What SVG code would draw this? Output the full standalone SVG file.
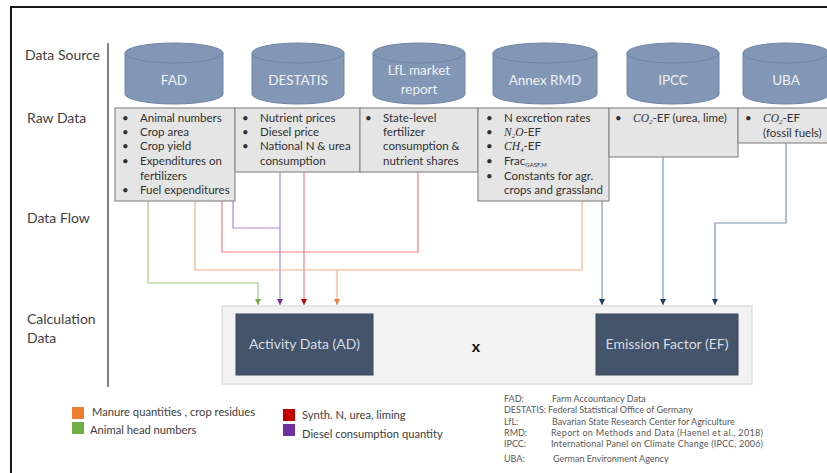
<svg xmlns="http://www.w3.org/2000/svg" width="827" height="473" viewBox="0 0 827 473">
<style>
text{font-family:Lato,"Open Sans","Liberation Sans",sans-serif}
.lbl{font-size:14px;fill:#404040}
.cyl{fill:#8197b5;stroke:#6e85a5;stroke-width:1}
.cyltxt{font-size:13.5px;fill:#eef1f6;text-anchor:middle}
.raw{fill:#e5e5e5;stroke:#8c8c8c;stroke-width:1.2}
.rt{font-size:11.5px;fill:#303030}
.m{font-family:"Liberation Serif","DejaVu Serif",serif;font-style:italic}
.sb{font-size:7px}
.calc{fill:#44546a;stroke:#3a4759;stroke-width:1}
.ct{font-size:14px;fill:#d6dce5;text-anchor:middle}
.lg{font-size:11.2px;fill:#404040}
.ab{font-size:9px;fill:#595959}
.c{fill:none;stroke-width:1.2}
</style>
<defs>
<marker id="aG" viewBox="0 0 6 6" refX="6" refY="3" markerWidth="6" markerHeight="6" markerUnits="userSpaceOnUse" orient="auto"><path d="M0,0L6,3L0,6z" fill="#70ad47"/></marker>
<marker id="aP" viewBox="0 0 6 6" refX="6" refY="3" markerWidth="6" markerHeight="6" markerUnits="userSpaceOnUse" orient="auto"><path d="M0,0L6,3L0,6z" fill="#7030a0"/></marker>
<marker id="aR" viewBox="0 0 6 6" refX="6" refY="3" markerWidth="6" markerHeight="6" markerUnits="userSpaceOnUse" orient="auto"><path d="M0,0L6,3L0,6z" fill="#c00000"/></marker>
<marker id="aO" viewBox="0 0 6 6" refX="6" refY="3" markerWidth="6" markerHeight="6" markerUnits="userSpaceOnUse" orient="auto"><path d="M0,0L6,3L0,6z" fill="#ed7d31"/></marker>
<marker id="aB" viewBox="0 0 6 6" refX="6" refY="3" markerWidth="6" markerHeight="6" markerUnits="userSpaceOnUse" orient="auto"><path d="M0,0L6,3L0,6z" fill="#203864"/></marker>
</defs>
<rect x="0" y="0" width="827" height="473" fill="#ffffff"/>
<rect x="11" y="7" width="840" height="490" fill="none" stroke="#000" stroke-width="1.8"/>
<line x1="108" y1="43" x2="108" y2="387" stroke="#595959" stroke-width="1.5"/>

<g id="row-labels">
<text class="lbl" x="25" y="60">Data Source</text>
<text class="lbl" x="27" y="123">Raw Data</text>
<text class="lbl" x="27" y="223">Data Flow</text>
<text class="lbl" x="27" y="324">Calculation</text>
<text class="lbl" x="27" y="343">Data</text>
</g>

<g id="calc-area">
<rect x="222" y="306" width="530" height="78" fill="#f2f2f2" stroke="#d9d9d9" stroke-width="1.2"/>
<text x="476" y="352" font-size="16" font-weight="bold" fill="#111" text-anchor="middle">x</text>
</g>

<g id="connectors">
<path class="c" stroke="#9fcc80" d="M148,201V283H258V305" marker-end="url(#aG)"/>
<path class="c" stroke="#a98bd3" d="M280,172V305" marker-end="url(#aP)"/>
<path class="c" stroke="#a98bd3" d="M233,201V228H280"/>
<path class="c" stroke="#ee8080" d="M304,172V305" marker-end="url(#aR)"/>
<path class="c" stroke="#ee8080" d="M418,172V252H222V201"/>
<path class="c" stroke="#f6b385" d="M582,201V270H195V201"/>
<path class="c" stroke="#f6b385" d="M337,270V305" marker-end="url(#aO)"/>
<path class="c" stroke="#7f93b8" d="M602,201V305" marker-end="url(#aB)"/>
<path class="c" stroke="#7f93b8" d="M663,157V305" marker-end="url(#aB)"/>
<path class="c" stroke="#7f93b8" d="M786,143V223H715V305" marker-end="url(#aB)"/>
</g>

<g id="src-fad">
<path class="cyl" d="M125,53V94A49,10 0 0 0 223,94V53"/>
<ellipse class="cyl" cx="174" cy="53" rx="49" ry="10"/>
<text class="cyltxt" x="174" y="85">FAD</text>
</g>
<g id="src-destatis">
<path class="cyl" d="M252,53V94A46,10 0 0 0 344,94V53"/>
<ellipse class="cyl" cx="298" cy="53" rx="46" ry="10"/>
<text class="cyltxt" x="298" y="85">DESTATIS</text>
</g>
<g id="src-lfl">
<path class="cyl" d="M373,53V94A46,10 0 0 0 465,94V53"/>
<ellipse class="cyl" cx="419" cy="53" rx="46" ry="10"/>
<text class="cyltxt" x="419" y="75">LfL market</text>
<text class="cyltxt" x="419" y="94">report</text>
</g>
<g id="src-annex">
<path class="cyl" d="M493,53V94A52,10 0 0 0 597,94V53"/>
<ellipse class="cyl" cx="545" cy="53" rx="52" ry="10"/>
<text class="cyltxt" x="545" y="85">Annex RMD</text>
</g>
<g id="src-ipcc">
<path class="cyl" d="M627,53V94A46,10 0 0 0 719,94V53"/>
<ellipse class="cyl" cx="673" cy="53" rx="46" ry="10"/>
<text class="cyltxt" x="673" y="85">IPCC</text>
</g>
<g id="src-uba">
<path class="cyl" d="M743,53V94A43,10 0 0 0 829,94V53"/>
<ellipse class="cyl" cx="786" cy="53" rx="43" ry="10"/>
<text class="cyltxt" x="786" y="85">UBA</text>
</g>

<g id="raw-fad">
<rect class="raw" x="115" y="108" width="120" height="93"/>
<text class="rt" x="122" y="122">•</text><text class="rt" x="140" y="122">Animal numbers</text>
<text class="rt" x="122" y="136">•</text><text class="rt" x="140" y="136">Crop area</text>
<text class="rt" x="122" y="150">•</text><text class="rt" x="140" y="150">Crop yield</text>
<text class="rt" x="122" y="165">•</text><text class="rt" x="140" y="165">Expenditures on</text>
<text class="rt" x="140" y="180">fertilizers</text>
<text class="rt" x="122" y="194">•</text><text class="rt" x="140" y="194">Fuel expenditures</text>
</g>
<g id="raw-destatis">
<rect class="raw" x="235" y="108" width="125" height="64"/>
<text class="rt" x="242" y="122">•</text><text class="rt" x="260" y="122">Nutrient prices</text>
<text class="rt" x="242" y="136">•</text><text class="rt" x="260" y="136">Diesel price</text>
<text class="rt" x="242" y="150">•</text><text class="rt" x="260" y="150">National N &amp; urea</text>
<text class="rt" x="260" y="165">consumption</text>
</g>
<g id="raw-lfl">
<rect class="raw" x="360" y="108" width="118" height="64"/>
<text class="rt" x="365" y="122">•</text><text class="rt" x="383" y="122">State-level</text>
<text class="rt" x="383" y="136">fertilizer</text>
<text class="rt" x="383" y="150">consumption &amp;</text>
<text class="rt" x="383" y="165">nutrient shares</text>
</g>
<g id="raw-annex">
<rect class="raw" x="478" y="108" width="131" height="93"/>
<text class="rt" x="486" y="122">•</text><text class="rt" x="504" y="122">N excretion rates</text>
<text class="rt" x="486" y="136">•</text><text class="rt" x="504" y="136"><tspan class="m">N</tspan><tspan class="m sb" dy="2">2</tspan><tspan class="m" dy="-2">O</tspan>-EF</text>
<text class="rt" x="486" y="150">•</text><text class="rt" x="504" y="150"><tspan class="m">CH</tspan><tspan class="m sb" dy="2">4</tspan><tspan dy="-2">-EF</tspan></text>
<text class="rt" x="486" y="165">•</text><text class="rt" x="504" y="165">Frac<tspan font-size="6" dy="2">GASF,M</tspan></text>
<text class="rt" x="486" y="180">•</text><text class="rt" x="504" y="180">Constants for agr.</text>
<text class="rt" x="504" y="194">crops and grassland</text>
</g>
<g id="raw-ipcc">
<rect class="raw" x="609" y="108" width="129" height="49"/>
<text class="rt" x="615" y="122">•</text><text class="rt" x="633" y="122"><tspan class="m">CO</tspan><tspan class="m sb" dy="2">2</tspan><tspan dy="-2">-EF (urea, lime)</tspan></text>
</g>
<g id="raw-uba">
<rect class="raw" x="738" y="108" width="100" height="35"/>
<text class="rt" x="745" y="122">•</text><text class="rt" x="763" y="122"><tspan class="m">CO</tspan><tspan class="m sb" dy="2">2</tspan><tspan dy="-2">-EF</tspan></text>
<text class="rt" x="763" y="137">(fossil fuels)</text>
</g>

<g id="activity-data">
<rect class="calc" x="236" y="314" width="137" height="61"/>
<text class="ct" x="304.5" y="349">Activity Data (AD)</text>
</g>
<g id="emission-factor">
<rect class="calc" x="596" y="314" width="142" height="61"/>
<text class="ct" x="667" y="349">Emission Factor (EF)</text>
</g>

<g id="legend">
<rect x="72" y="407" width="12" height="12" fill="#ed7d31"/>
<text class="lg" x="92" y="416">Manure quantities , crop residues</text>
<rect x="72" y="422" width="12" height="12" fill="#70ad47"/>
<text class="lg" x="90" y="434">Animal head numbers</text>
<rect x="283" y="409" width="12" height="12" fill="#c00000"/>
<text class="lg" x="302" y="419">Synth. N, urea, liming</text>
<rect x="283" y="424" width="12" height="12" fill="#7030a0"/>
<text class="lg" x="302" y="438">Diesel consumption quantity</text>
</g>

<g id="abbreviations">
<text class="ab" x="504" y="402">FAD:</text><text class="ab" x="552" y="402">Farm  Accountancy Data</text>
<text class="ab" x="504" y="413">DESTATIS:</text><text class="ab" x="548" y="413">Federal Statistical Office of Germany</text>
<text class="ab" x="504" y="425">LfL:</text><text class="ab" x="552" y="425">Bavarian State Research Center for Agriculture</text>
<text class="ab" x="504" y="436">RMD:</text><text class="ab" x="551" y="436" textLength="212" lengthAdjust="spacing">Report on Methods and Data (Haenel et al., 2018)</text>
<text class="ab" x="504" y="447">IPCC:</text><text class="ab" x="551" y="447" textLength="212" lengthAdjust="spacing">International Panel on Climate Change (IPCC, 2006)</text>
<text class="ab" x="504" y="462">UBA:</text><text class="ab" x="553" y="462">German Environment Agency</text>
</g>
</svg>
